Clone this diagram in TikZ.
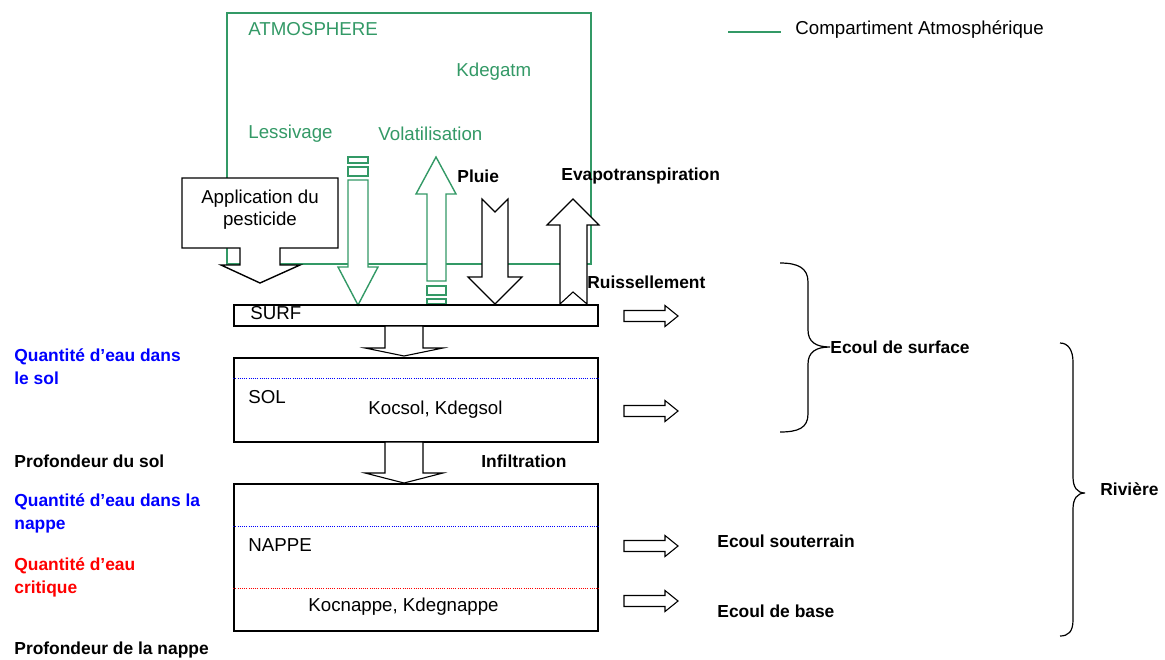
\documentclass[tikz,border=0pt]{standalone}
\usepackage{fontspec}
\setmainfont{Liberation Sans}
\usetikzlibrary{fit}
\definecolor{atmgreen}{RGB}{51,153,102}

\begin{document}
\begin{tikzpicture}[x=0.5pt,y=-0.5pt,
every node/.style={inner sep=0pt},
txt/.style={anchor=west,font=\fontsize{9.35}{11.3}\selectfont},
btxt/.style={anchor=west,align=left,font=\fontsize{8.7}{11.5}\selectfont\bfseries},
gtxt/.style={txt,text=atmgreen},
box/.style={draw,line width=0.9pt},
atmbox/.style={draw=atmgreen,line width=0.8pt},
blk/.style={draw,fill=white,line width=0.55pt},
gblk/.style={draw=atmgreen,fill=white,line width=0.7pt},
brc/.style={draw,line width=0.6pt},
dots/.style={line width=0.5pt,dash pattern=on 0.5pt off 0.6pt}]
\useasboundingbox (0,0) rectangle (1165,659);

% atmosphere compartment and legend
\node[atmbox,fit={(227,13) (591,264)}] (atmos) {};
\coordinate (legA) at (728,32);
\coordinate (legB) at (781,32);
\draw[atmbox] (legA) -- (legB);
\node[txt] (legtxt) at (795,30) {Compartiment Atmosphérique};
\node[gtxt] (atmlbl) at (248,29) {ATMOSPHERE};
\node[gtxt] (kdegatm) at (456,72) {Kdegatm};
\node[gtxt] (lessiv) at (248,134) {Lessivage};
\node[gtxt] (volat) at (378,134) {Volatilisation};

% application du pesticide
\draw[blk,line width=0.7pt] (182,178) -- (338,178) -- (338,248) -- (280,248) -- (280,265) -- (300,265)
  -- (260,283) -- (221,265) -- (240,265) -- (240,248) -- (182,248) -- cycle;
\node[txt,anchor=center,align=center] (appli) at (260,209.5) {Application du\\pesticide};

% lessivage
\draw[gblk] (348,157) rectangle (368,163);
\draw[gblk] (348,167) rectangle (368,176);
\draw[gblk] (348,180) -- (368,180) -- (368,267) -- (378,267) -- (358,305) -- (338,267) -- (348,267) -- cycle;

% volatilisation
\draw[gblk] (427,281) -- (427,194) -- (416,194) -- (436,157) -- (456,194) -- (446,194) -- (446,281) -- cycle;
\draw[gblk] (427,286) rectangle (446,295);
\draw[gblk] (427,299) rectangle (446,304);

% pluie et evapotranspiration
\draw[blk] (482,199) -- (495,212) -- (508,199) -- (508,277) -- (522,277) -- (495,304) -- (468,277) -- (482,277) -- cycle;
\draw[blk] (560,304) -- (560,225) -- (547,225) -- (573,199) -- (599,225) -- (587,225) -- (587,304) -- (573,292) -- cycle;
\node[btxt] (pluie) at (457,176) {Pluie};
\node[btxt] (evapo) at (561,176) {Evapotranspiration};

% compartiments
\node[box,fit={(234,305) (598,326)}] (surf) {};
\node[box,fit={(234,358) (598,442)}] (sol) {};
\node[box,fit={(234,484) (598,631)}] (nappe) {};
\draw[dots,blue] (sol.west |- 0,378) -- (sol.east |- 0,378);
\draw[dots,blue] (nappe.west |- 0,526) -- (nappe.east |- 0,526);
\draw[dots,red] (nappe.west |- 0,588) -- (nappe.east |- 0,588);

\node[txt] (surftxt) at (250,313) {SURF};
\node[txt] (soltxt) at (248,397) {SOL};
\node[txt] (kocsol) at (368,410) {Kocsol, Kdegsol};
\node[txt] (nappetxt) at (248,545) {NAPPE};
\node[txt] (kocnappe) at (308,607) {Kocnappe, Kdegnappe};
\node[btxt] (ruiss) at (587,282) {Ruissellement};

% transferts verticaux
\draw[blk] (385,326) -- (423,326) -- (423,348) -- (443,348) -- (404,356) -- (365,348) -- (385,348) -- cycle;
\draw[blk] (385,442) -- (423,442) -- (423,473) -- (443,473) -- (404,483) -- (365,473) -- (385,473) -- cycle;
\node[btxt] (infil) at (481,461) {Infiltration};

% sorties vers la riviere
\foreach \yy in {316,411,546,601}
  \draw[blk] (624,\yy-5.5) -- (665,\yy-5.5) -- (665,\yy-10.5) -- (678,\yy) -- (665,\yy+10.5)
    -- (665,\yy+5.5) -- (624,\yy+5.5) -- cycle;
\node[btxt] (ecsout) at (717,541) {Ecoul souterrain};
\node[btxt] (ecbase) at (717,611) {Ecoul de base};

% accolades
\coordinate (bsurf) at (830,347);
\draw[brc] (780,263) .. controls (798,263) and (808,268) .. (808,282) -- (808,330)
  .. controls (808,342) and (816,347) .. (bsurf) .. controls (816,347) and (808,352) .. (808,364)
  -- (808,414) .. controls (808,428) and (798,432) .. (780,432);
\node[btxt] (ecsurf) at (bsurf) {Ecoul de surface};
\coordinate (briv) at (1085,493);
\draw[brc] (1060,343) .. controls (1068,343) and (1073,350) .. (1073,362) -- (1073,477)
  .. controls (1073,487) and (1077,493) .. (briv) .. controls (1077,493) and (1073,499) .. (1073,509)
  -- (1073,620) .. controls (1073,632) and (1068,636) .. (1060,636);
\node[btxt] (riviere) at (1100,489) {Rivière};

% legendes a gauche
\node[btxt,text=blue] (qsol) at (14,366.5) {Quantité d’eau dans\\le sol};
\node[btxt] (psol) at (14,461) {Profondeur du sol};
\node[btxt,text=blue] (qnappe) at (14,513.5) {Quantité d’eau dans la\\nappe};
\node[btxt,text=red] (qcrit) at (14,577.5) {Quantité d’eau\\critique};
\node[btxt] (pnappe) at (14,650) {Profondeur de la nappe};
\end{tikzpicture}
\end{document}
